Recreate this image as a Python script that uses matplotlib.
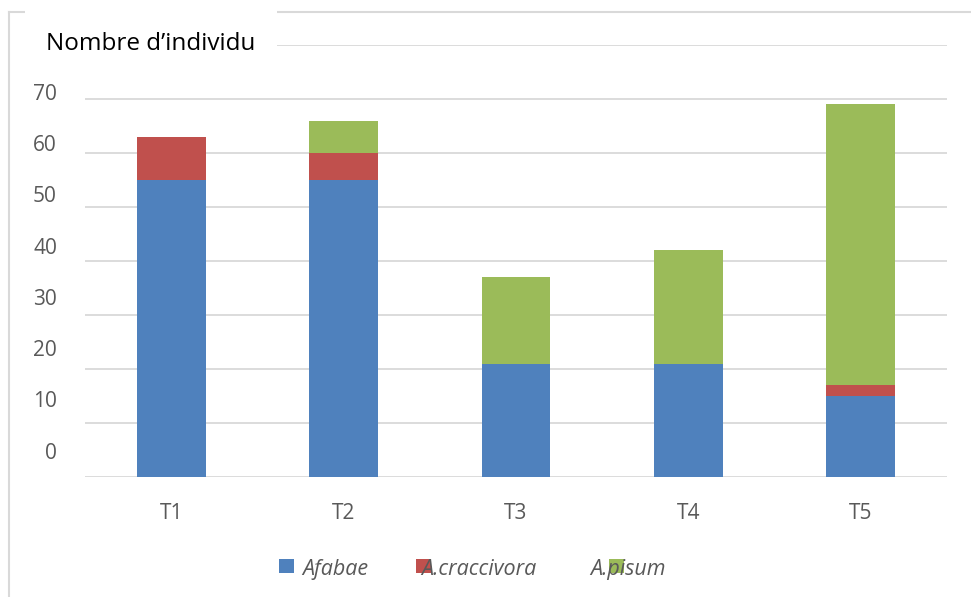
import numpy as np
import matplotlib
matplotlib.use("Agg")
import matplotlib.pyplot as plt
from matplotlib.patches import Rectangle
from matplotlib.lines import Line2D
from matplotlib.transforms import blended_transform_factory

# ── données ──────────────────────────────────
traitements = ["T1", "T2", "T3", "T4", "T5"]
especes     = ["Afabae", "A.craccivora", "A.pisum"]
afabae      = [55, 55, 21, 21, 15]
craccivora  = [8, 5, 0, 0, 2]
pisum       = [0, 6, 16, 21, 52]
y_ticks     = [0, 10, 20, 30, 40, 50, 60, 70]
titre       = "Nombre d\u2019individu"

couleurs = ["#4F81BD", "#C0504D", "#9BBB59"]
gris_txt = "#595959"
gris_lig = "#D9D9D9"
police   = ["Open Sans", "DejaVu Sans"]

plt.rcParams["font.family"] = police

W, H = 971, 597
fig = plt.figure(figsize=(W / 100, H / 100), dpi=100, facecolor="white")

def fx(px):
    return px / W

def fy(py):
    return 1 - py / H

ax = fig.add_axes([fx(85), fy(477), fx(947) - fx(85), fy(45) - fy(477)])

# ── barres empilées ──────────────────────────
x = np.arange(len(traitements))
series = [afabae, craccivora, pisum]
bas = np.zeros(len(traitements))
for vals, col in zip(series, couleurs):
    ax.bar(x, vals, bottom=bas, width=0.4, color=col, zorder=3)
    bas += np.array(vals)

ax.set_xlim(-0.5, len(traitements) - 0.5)
ax.set_ylim(0, 80)
ax.set_yticks(y_ticks + [80])
ax.set_yticklabels([])
ax.grid(axis="y", color=gris_lig, lw=1.3, zorder=0)
ax.tick_params(axis="y", length=0)
for s in ax.spines.values():
    s.set_visible(False)

ax.set_xticks(x)
ax.set_xticklabels(traitements, color=gris_txt, fontsize=15)
ax.tick_params(axis="x", length=0, pad=19)

# étiquettes de l'axe Y (légèrement décalées comme dans l'original)
tr = blended_transform_factory(ax.transAxes, ax.transData)
for v in y_ticks:
    ax.text(-0.0325, 4.4 + 0.95 * v, str(v), transform=tr, ha="right",
            va="center", color=gris_txt, fontsize=15, clip_on=False)

# ── cadre du graphique ───────────────────────
fig.add_artist(Line2D([fx(9), fx(9)], [fy(12), 0], color=gris_lig, lw=1.5))
fig.add_artist(Line2D([fx(9), 1], [fy(12), fy(12)], color=gris_lig, lw=1.5))

# ── titre ────────────────────────────────────
fig.add_artist(Rectangle((fx(25), fy(68)), fx(277) - fx(25), fy(4) - fy(68),
                         facecolor="white", edgecolor="none", zorder=5))
fig.text(fx(46), fy(44), titre, ha="left", va="center", fontsize=17.5,
         color="black", zorder=6)

# ── légende ──────────────────────────────────
carres = [279, 416, 609]
textes = [302, 421, 590]
for nom, col, xc, xt in zip(especes, couleurs, carres, textes):
    fig.add_artist(Rectangle((fx(xc), fy(573)), fx(15), fy(559) - fy(573),
                             facecolor=col, edgecolor="none", zorder=5))
    fig.text(fx(xt), fy(575), nom, ha="left", va="baseline", fontsize=15.5,
             style="italic", color=gris_txt, zorder=6)

plt.savefig("out.png", dpi=100, facecolor="white")
